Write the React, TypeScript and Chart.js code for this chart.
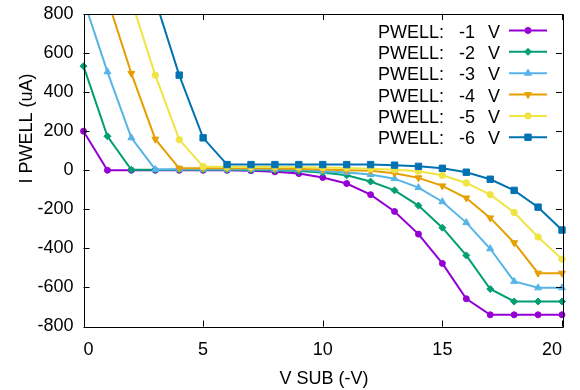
import React, { useEffect, useRef } from "react";
import { Chart, registerables } from "chart.js";
import { drawPoint } from "chart.js/helpers";

Chart.register(...registerables);

const vsub = [0, 1, 2, 3, 4, 5, 6, 7, 8, 9, 10, 11, 12, 13, 14, 15, 16, 17, 18, 19, 20];
const seriesNames = ["-1", "-2", "-3", "-4", "-5", "-6"];
const p1 = [200, 0, 0, 0, 0, 0, 0, -2, -8, -17, -37, -68, -125, -211, -327, -477, -658, -740, -740, -740, -740];
const p2 = [533, 174, 2, 2, 2, 2, 2, 1, 0, -4, -12, -26, -58, -103, -181, -294, -436, -608, -672, -672, -672];
const p3 = [874, 504, 166, 4, 5, 5, 5, 5, 4, 2, -5, -12, -22, -43, -89, -161, -268, -402, -569, -602, -602];
const p4 = [null, 876, 496, 159, 10, 10, 10, 10, 9, 7, 4, 0, -3, -15, -39, -80, -142, -244, -371, -527, -527];
const p5 = [null, null, 869, 487, 157, 19, 17, 17, 17, 16, 14, 12, 8, 2, -5, -26, -65, -125, -216, -342, -455];
const p6 = [null, null, null, 873, 487, 166, 29, 29, 29, 29, 29, 29, 29, 26, 20, 10, -10, -46, -103, -189, -306];
const yTicks = [-800, -600, -400, -200, 0, 200, 400, 600, 800];
const xTicks = [0, 5, 10, 15, 20];

const seriesValues = [p1, p2, p3, p4, p5, p6];
const colors = ["#9400d3", "#009e73", "#56b4e9", "#e69f00", "#f0e442", "#0072b2"];
const styles: any[] = ["circle", "rectRot", "triangle", "triangle", "circle", "rect"];
const rotations = [0, 0, 0, 180, 0, 0];
const radii = [3, 3.5, 4, 4, 3.2, 4.5];

const FONT = "18px 'Liberation Sans', Arial, sans-serif";

const framePlugin = {
  id: "frame",
  afterDraw(chart: any) {
    const ctx = chart.ctx;
    const { left, right, top, bottom } = chart.chartArea;
    const xs = chart.scales.x;
    const ys = chart.scales.y;
    ctx.save();
    ctx.strokeStyle = "#000";
    ctx.lineWidth = 1;
    ctx.beginPath();
    ctx.rect(Math.round(left) + 0.5, Math.round(top) + 0.5, Math.round(right - left), Math.round(bottom - top));
    ctx.stroke();
    const tl = 6;
    ctx.beginPath();
    yTicks.forEach((v) => {
      const y = Math.round(ys.getPixelForValue(v)) + 0.5;
      ctx.moveTo(left, y);
      ctx.lineTo(left + tl, y);
      ctx.moveTo(right, y);
      ctx.lineTo(right - tl, y);
    });
    xTicks.forEach((v) => {
      const x = Math.round(xs.getPixelForValue(v)) + 0.5;
      ctx.moveTo(x, bottom);
      ctx.lineTo(x, bottom - tl);
      ctx.moveTo(x, top);
      ctx.lineTo(x, top + tl);
    });
    ctx.stroke();

    // axis titles
    ctx.fillStyle = "#000";
    ctx.font = FONT;
    ctx.textAlign = "center";
    ctx.textBaseline = "alphabetic";
    ctx.fillText("V SUB (-V)", 324, 383.5);
    ctx.save();
    ctx.translate(31.5, 128.5);
    ctx.rotate(-Math.PI / 2);
    ctx.fillText("I PWELL (uA)", 0, 0);
    ctx.restore();

    // legend
    ctx.textAlign = "left";
    seriesNames.forEach((name, i) => {
      const ry = 30.5 + i * 21.35;
      ctx.fillStyle = "#000";
      ctx.fillText("PWELL:", 378, ry + 7);
      ctx.fillText(name, 459, ry + 7);
      ctx.fillText("V", 488, ry + 7);
      ctx.strokeStyle = colors[i];
      ctx.lineWidth = 2;
      ctx.beginPath();
      ctx.moveTo(509, ry);
      ctx.lineTo(547, ry);
      ctx.stroke();
      ctx.fillStyle = colors[i];
      ctx.lineWidth = 1;
      drawPoint(ctx, { pointStyle: styles[i], rotation: rotations[i], radius: radii[i], borderWidth: 1 } as any, 528, ry);
    });
    ctx.restore();
  },
};

export default function App() {
  const ref = useRef<HTMLCanvasElement>(null);
  useEffect(() => {
    if (!ref.current) return;
    const datasets = seriesValues.map((vals, i) => ({
      label: "PWELL:  " + seriesNames[i] + "  V",
      data: vsub.map((x, j) => ({ x, y: vals[j] })),
      borderColor: colors[i],
      backgroundColor: colors[i],
      pointBackgroundColor: colors[i],
      pointBorderColor: colors[i],
      pointBorderWidth: 1,
      borderWidth: 2,
      pointStyle: styles[i],
      pointRotation: rotations[i],
      pointRadius: radii[i],
      tension: 0,
      spanGaps: false,
      order: 5 - i,
      clip: { left: 6, right: 8, top: 0, bottom: 6 },
    }));
    const chart = new Chart(ref.current, {
      type: "line",
      data: { datasets },
      options: {
        animation: false,
        responsive: false,
        layout: { padding: { left: 0, top: 14, right: 18, bottom: 0 } },
        plugins: { legend: { display: false }, tooltip: { enabled: false } },
        scales: {
          x: {
            type: "linear",
            min: 0,
            max: 20,
            afterFit: (s: any) => { s.height = 63.5; s.paddingLeft = 0; s.paddingRight = 0; },
            afterBuildTicks: (s: any) => { s.ticks = xTicks.map((v) => ({ value: v })); },
            grid: { display: false, drawTicks: false },
            border: { display: false },
            ticks: { padding: 13, align: "inner", color: "#000", font: { family: "'Liberation Sans', Arial, sans-serif", size: 18 } },
          },
          y: {
            type: "linear",
            min: -800,
            max: 800,
            afterFit: (s: any) => { s.width = 83.5; s.paddingTop = 0; s.paddingBottom = 0; },
            afterBuildTicks: (s: any) => { s.ticks = yTicks.map((v) => ({ value: v })); },
            grid: { display: false, drawTicks: false },
            border: { display: false },
            ticks: { padding: 10, color: "#000", font: { family: "'Liberation Sans', Arial, sans-serif", size: 18 } },
          },
        },
      },
      plugins: [framePlugin],
    } as any);
    return () => chart.destroy();
  }, []);
  return (
    <div style={{ position: "fixed", left: 0, top: 0, width: 580, height: 390, background: "#fff" }}>
      <canvas ref={ref} width={580} height={390} style={{ display: "block" }} />
    </div>
  );
}
